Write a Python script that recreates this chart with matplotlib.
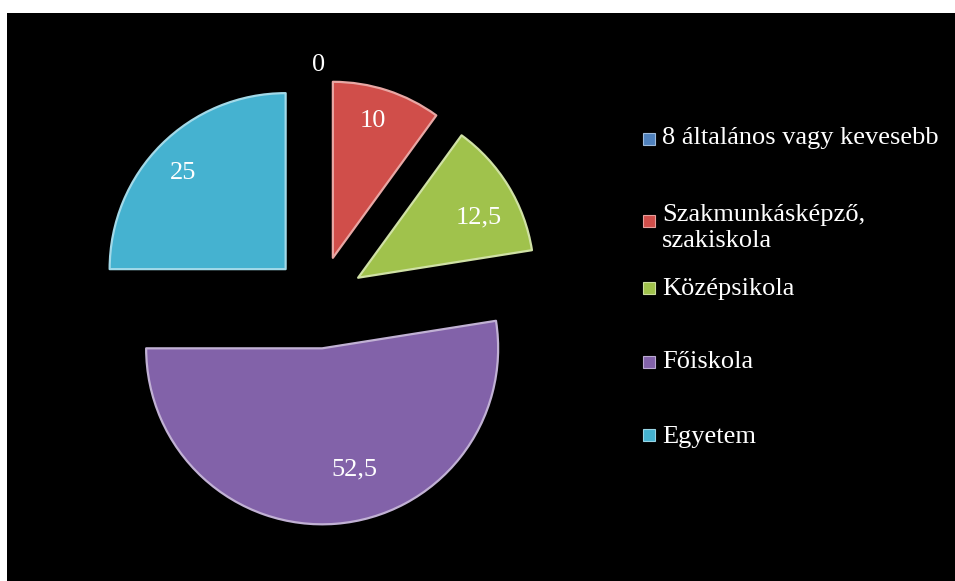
import numpy as np
import matplotlib
matplotlib.use("Agg")
import matplotlib.pyplot as plt
from matplotlib.patches import Rectangle
import matplotlib.colors as mcolors

plt.rcParams['font.family'] = ['Liberation Serif', 'DejaVu Serif']

# data
categories = ['8 általános vagy kevesebb', 'Szakmunkásképző,\nszakiskola',
              'Középsikola', 'Főiskola', 'Egyetem']
values = [0, 10, 12.5, 52.5, 25]
value_labels = ['0', '10', '12,5', '52,5', '25']
colors = ['#4F81BD', '#D04E4A', '#A0C24C', '#8262A9', '#45B2D0']

# where the value labels sit: fraction of radius from the slice tip, and
# a small angle nudge (deg) from the slice middle, as Excel placed them
label_dist = [1.08, 0.81, 0.765, 0.71, 0.80]
label_turn = [0, 1.6, -5.1, 10.6, 1.9]

W, H = 955, 581
fig = plt.figure(figsize=(W / 100, H / 100), dpi=100, facecolor='white')

# black chart area with a thin white margin top/left
fig.add_artist(Rectangle((7 / W, 0), 948 / W, 568 / H, transform=fig.transFigure,
                         facecolor='black', edgecolor='none', zorder=0))

R = 176  # pie radius in px
cx, cy = 318.5, H - 302
ax = fig.add_axes([(cx - 1.5 * R) / W, (cy - 1.5 * R) / H, 3 * R / W, 3 * R / H])
ax.set_facecolor('none')

wedges, _ = ax.pie(values, colors=colors, startangle=90, counterclock=False,
                   explode=[0.264] * len(values), radius=1.0,
                   wedgeprops=dict(linewidth=0))

for w, c in zip(wedges, colors):
    if w.theta2 - w.theta1 <= 0:
        continue
    light = mcolors.to_rgb(c)
    light = tuple(min(1, v + 0.5 * (1 - v)) for v in light)
    w.set_edgecolor(light)
    w.set_linewidth(1.6)
    w.set_joinstyle('round')

for w, txt, d, t in zip(wedges, value_labels, label_dist, label_turn):
    mid = np.deg2rad((w.theta1 + w.theta2) / 2 + t)
    x0, y0 = w.center
    ax.text(x0 + d * np.cos(mid), y0 + d * np.sin(mid), txt, color='white',
            fontsize=19, ha='center', va='center')

ax.set_xlim(-1.5, 1.5)
ax.set_ylim(-1.5, 1.5)
ax.set_aspect('equal')
ax.axis('off')

# legend, drawn by hand
marker_y = [138.5, 221, 288, 361.5, 435]
text_y = [138, 228, 289, 362, 437]
for lab, c, my, ty in zip(categories, colors, marker_y, text_y):
    light = tuple(min(1, v + 0.45 * (1 - v)) for v in mcolors.to_rgb(c))
    fig.add_artist(Rectangle(((643) / W, (H - my - 6) / H), 12 / W, 12 / H,
                             transform=fig.transFigure, facecolor=c,
                             edgecolor=light, linewidth=0.8))
    fig.text(662 / W, (H - ty) / H, lab, color='white', fontsize=19,
             ha='left', va='center', linespacing=1.18)

fig.savefig('out.png', dpi=100, facecolor='white')
